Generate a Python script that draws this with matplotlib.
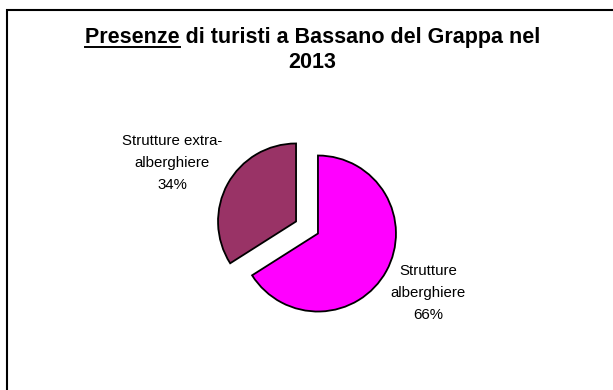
import matplotlib.pyplot as plt
from matplotlib.patches import Rectangle
from matplotlib.lines import Line2D

# data
categories = ['Strutture\nalberghiere', 'Strutture extra-\nalberghiere']
shares = [66, 34]
colors = ['#FF00FF', '#993366']

plt.rcParams['font.family'] = ['Liberation Sans', 'DejaVu Sans']

W, H = 613, 390
fig = plt.figure(figsize=(W / 100, H / 100), dpi=100)
ax = fig.add_axes([0, 0, 1, 1])

# chart frame (right and bottom edges fall outside the image)
ax.add_patch(Rectangle((7, -20), W + 20, H - 10 + 20, fill=False,
                       edgecolor='black', linewidth=1.5, zorder=0))

cx, cy, r = 307, H - 227.5, 78
labels = ['%s\n%d%%' % (c, s) for c, s in zip(categories, shares)]
wedges, texts = ax.pie(shares, colors=colors, labels=labels,
                       startangle=90, counterclock=False,
                       explode=[12.5, 12.5], radius=r, center=(cx, cy),
                       frame=True,
                       wedgeprops=dict(edgecolor='black', linewidth=1.3),
                       textprops=dict(fontsize=10.8, ha='center', va='center',
                                      linespacing=1.75))
ax.set_xlim(0, W)
ax.set_ylim(0, H)
ax.set_aspect('equal')
ax.axis('off')
texts[0].set_position((cx + 121, cy - 65.5))
texts[1].set_position((cx - 135, cy + 64.5))
for t in texts:
    t.set_horizontalalignment('center')
    t.set_multialignment('center')

# title, first word underlined
fs = 15.5
title1 = 'Presenze di turisti a Bassano del Grappa nel'
t1 = ax.text(W / 2 + 6, H - 37, title1, fontsize=fs, fontweight='bold',
             ha='center', va='center')
ax.text(W / 2 + 6, H - 62, '2013', fontsize=fs, fontweight='bold',
        ha='center', va='center')

fig.canvas.draw()
renderer = fig.canvas.get_renderer()
bb = t1.get_window_extent(renderer)
probe = ax.text(0, 0, 'Presenze', fontsize=fs, fontweight='bold')
pw = probe.get_window_extent(renderer).width
probe.remove()
uy = bb.y0 + 1
fig.add_artist(Line2D([bb.x0 / W, (bb.x0 + pw) / W], [uy / H, uy / H],
                      color='black', linewidth=1.4))

fig.savefig('out.png', dpi=100)
